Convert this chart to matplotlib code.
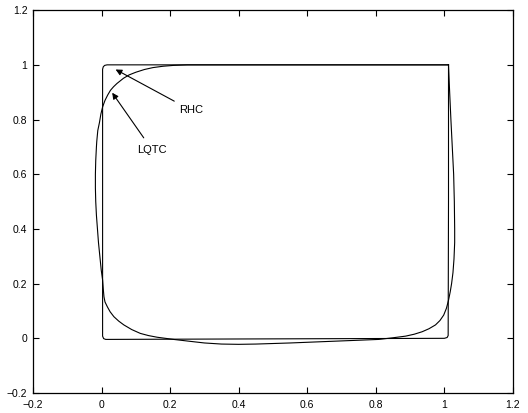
import matplotlib
matplotlib.use('Agg')
from matplotlib import pyplot as plt

plt.rcParams['font.family'] = ['Liberation Sans', 'DejaVu Sans']

# RHC trajectory (nearly the square reference)
rhc_x = [1.012, 1.012, 1.011, 1.008, 1.0, 0.5, 0.012, 0.006, 0.003, 0.003,
         0.003, 0.005, 0.009, 0.016, 0.5, 1.012]
rhc_y = [1.0, 0.5, 0.010, 0.003, 0.0, -0.002, -0.004, -0.001, 0.008, 0.5,
         0.984, 0.993, 0.998, 1.0, 1.0, 1.0]

# LQTC trajectory
lqtc_x = [1.012, 1.015, 1.019, 1.023, 1.027, 1.029, 1.030, 1.030, 1.028,
          1.025, 1.021, 1.017, 1.012, 1.006, 0.998, 0.987, 0.974, 0.955,
          0.935, 0.912, 0.887, 0.85, 0.809, 0.75, 0.65, 0.55, 0.45, 0.40,
          0.35, 0.30, 0.258, 0.21, 0.162, 0.137, 0.113, 0.088, 0.065,
          0.05, 0.036, 0.025, 0.017, 0.010, 0.007, 0.005, 0.003, -0.001,
          -0.005, -0.009, -0.012, -0.015, -0.017, -0.018, -0.018, -0.017,
          -0.015, -0.014, -0.011, -0.006, -0.002, 0.003, 0.010, 0.018,
          0.026, 0.035, 0.045, 0.064, 0.08, 0.10, 0.125, 0.15, 0.18, 0.21,
          0.25, 0.6, 1.012]
lqtc_y = [1.0, 0.91, 0.80, 0.70, 0.60, 0.50, 0.40, 0.35, 0.29, 0.24, 0.20,
          0.17, 0.139, 0.11, 0.085, 0.065, 0.049, 0.035, 0.024, 0.015,
          0.008, 0.002, -0.004, -0.007, -0.012, -0.017, -0.021, -0.022,
          -0.021, -0.017, -0.011, -0.004, 0.004, 0.010, 0.018, 0.032, 0.049,
          0.063, 0.079, 0.097, 0.115, 0.133, 0.152, 0.18, 0.213, 0.25, 0.30,
          0.35, 0.40, 0.45, 0.50, 0.55, 0.60, 0.65, 0.70, 0.72, 0.76, 0.79,
          0.82, 0.846, 0.87, 0.89, 0.907, 0.92, 0.932, 0.951, 0.963, 0.973,
          0.983, 0.99, 0.995, 0.998, 1.0, 1.0, 1.0]

ticks = [-0.2, 0, 0.2, 0.4, 0.6, 0.8, 1, 1.2]
tick_labels = ['\u22120.2', '0', '0.2', '0.4', '0.6', '0.8', '1', '1.2']

fig = plt.figure(figsize=(5.28, 4.13), dpi=100)
ax = fig.add_axes([0.0625, 0.0484, 0.909, 0.927])

ax.plot(rhc_x, rhc_y, '-', color='k', lw=0.8)
ax.plot(lqtc_x, lqtc_y, '-', color='k', lw=0.8)

ax.annotate('RHC', xy=(0.041, 0.983), xytext=(0.226, 0.834),
            fontsize=8, va='center', ha='left',
            arrowprops=dict(arrowstyle='-|>', color='k', lw=0.8,
                            mutation_scale=9, shrinkA=2, shrinkB=0))
ax.annotate('LQTC', xy=(0.031, 0.898), xytext=(0.105, 0.688),
            fontsize=8, va='center', ha='left',
            arrowprops=dict(arrowstyle='-|>', color='k', lw=0.8,
                            mutation_scale=9, shrinkA=4, shrinkB=0))

ax.set_xlim(-0.2, 1.2)
ax.set_ylim(-0.2, 1.2)
ax.set_xticks(ticks)
ax.set_xticklabels(tick_labels)
ax.set_yticks(ticks)
ax.set_yticklabels(tick_labels)
ax.tick_params(axis='both', which='major', direction='in', length=4,
               width=0.8, labelsize=7.5, top=True, right=True)
ax.tick_params(axis='x', pad=5)
ax.tick_params(axis='y', pad=4)
for s in ax.spines.values():
    s.set_linewidth(0.9)

fig.savefig('out.png', dpi=100)
